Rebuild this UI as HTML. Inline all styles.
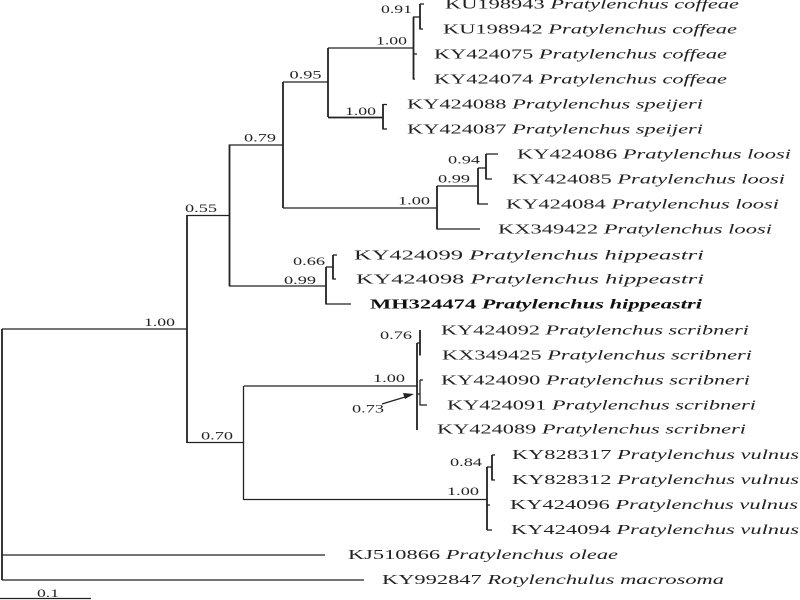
<!DOCTYPE html>
<html><head><meta charset="utf-8"><style>
html,body{margin:0;padding:0;background:#fff;width:800px;height:600px;overflow:hidden}
svg{display:block}
text{font-family:"Liberation Serif",serif;font-size:13.5px;fill:#222}
.n{font-size:12px}
.i{font-style:italic}
.b{font-weight:bold;fill:#111}
line{stroke:#222;stroke-width:1.3}
.t{stroke-width:1.8}
</style></head><body>
<svg width="800" height="600" viewBox="0 0 800 600" xmlns="http://www.w3.org/2000/svg">
<g>
<line x1="2" y1="329" x2="2" y2="580" class="t"/>
<line x1="2" y1="329" x2="187" y2="329"/>
<line x1="187" y1="215" x2="187" y2="443" class="t"/>
<line x1="187" y1="215.500" x2="229" y2="215.500"/>
<line x1="229.500" y1="144.500" x2="229.500" y2="286" class="t"/>
<line x1="229" y1="145" x2="283" y2="145"/>
<line x1="283" y1="82" x2="283" y2="208" class="t"/>
<line x1="283" y1="82" x2="328" y2="82"/>
<line x1="328" y1="48" x2="328" y2="117" class="t"/>
<line x1="328" y1="48" x2="413" y2="48"/>
<line x1="413.500" y1="17" x2="413.500" y2="79.500" class="t"/>
<line x1="413" y1="17" x2="420" y2="17"/>
<line x1="420" y1="4" x2="420" y2="29.500" class="t"/>
<line x1="420" y1="4" x2="424" y2="4"/>
<line x1="420" y1="29" x2="423" y2="29"/>
<line x1="413" y1="54" x2="417" y2="54"/>
<line x1="413" y1="79" x2="415" y2="79"/>
<line x1="328" y1="117.500" x2="383" y2="117.500" class="t"/>
<line x1="383" y1="104" x2="383" y2="129.500" class="t"/>
<line x1="383" y1="104.500" x2="387" y2="104.500"/>
<line x1="383" y1="129" x2="387" y2="129"/>
<line x1="283" y1="208" x2="437" y2="208"/>
<line x1="437" y1="186" x2="437" y2="229.500" class="t"/>
<line x1="437" y1="186" x2="478" y2="186"/>
<line x1="437" y1="229" x2="480" y2="229"/>
<line x1="478" y1="168" x2="478" y2="204.500" class="t"/>
<line x1="478" y1="168" x2="486" y2="168"/>
<line x1="478" y1="204" x2="488" y2="204"/>
<line x1="486" y1="154" x2="486" y2="179.500" class="t"/>
<line x1="486" y1="154" x2="498" y2="154"/>
<line x1="486" y1="179" x2="492" y2="179"/>
<line x1="229" y1="286" x2="326" y2="286"/>
<line x1="326" y1="267" x2="326" y2="304.500" class="t"/>
<line x1="326" y1="304" x2="351" y2="304"/>
<line x1="326" y1="267" x2="333" y2="267"/>
<line x1="333" y1="255" x2="333" y2="279.500" class="t"/>
<line x1="333" y1="255" x2="337" y2="255"/>
<line x1="333" y1="279" x2="336" y2="279"/>
<line x1="187" y1="442.500" x2="244" y2="442.500"/>
<line x1="243.500" y1="386" x2="243.500" y2="500"/>
<line x1="244" y1="386" x2="417" y2="386"/>
<line x1="417" y1="343" x2="417" y2="430" class="t"/>
<line x1="417" y1="343" x2="420" y2="343"/>
<line x1="420" y1="330" x2="420" y2="355.500" class="t"/>
<line x1="417" y1="394" x2="420" y2="394"/>
<line x1="420" y1="380" x2="420" y2="405.500"/>
<line x1="420" y1="380" x2="423" y2="380"/>
<line x1="420" y1="405" x2="427" y2="405"/>
<line x1="382" y1="404" x2="410" y2="395.500"/>
<polygon points="414,394 403,393 405,399" fill="#222"/>
<line x1="244" y1="499.500" x2="487" y2="499.500"/>
<line x1="487" y1="467" x2="487" y2="530" class="t"/>
<line x1="487" y1="467" x2="492" y2="467"/>
<line x1="492" y1="455" x2="492" y2="480.500" class="t"/>
<line x1="492" y1="455" x2="495" y2="455"/>
<line x1="492" y1="480" x2="495" y2="480"/>
<line x1="487" y1="505" x2="490" y2="505"/>
<line x1="487" y1="530" x2="492" y2="530"/>
<line x1="2" y1="555" x2="325" y2="555"/>
<line x1="2" y1="580" x2="364" y2="580"/>
<line x1="0" y1="598.500" x2="91" y2="598.500"/>
</g>
<g>
<text class="n" x="381" y="13" textLength="31" lengthAdjust="spacingAndGlyphs">0.91</text>
<text class="n" x="376" y="44.500" textLength="31" lengthAdjust="spacingAndGlyphs">1.00</text>
<text class="n" x="289.500" y="78.500" textLength="32" lengthAdjust="spacingAndGlyphs">0.95</text>
<text class="n" x="345" y="115" textLength="31" lengthAdjust="spacingAndGlyphs">1.00</text>
<text class="n" x="244" y="141.500" textLength="32" lengthAdjust="spacingAndGlyphs">0.79</text>
<text class="n" x="448" y="163.500" textLength="32" lengthAdjust="spacingAndGlyphs">0.94</text>
<text class="n" x="438" y="182.500" textLength="32" lengthAdjust="spacingAndGlyphs">0.99</text>
<text class="n" x="398" y="204.500" textLength="32" lengthAdjust="spacingAndGlyphs">1.00</text>
<text class="n" x="185" y="212" textLength="32" lengthAdjust="spacingAndGlyphs">0.55</text>
<text class="n" x="293" y="265" textLength="32" lengthAdjust="spacingAndGlyphs">0.66</text>
<text class="n" x="284" y="284" textLength="32" lengthAdjust="spacingAndGlyphs">0.99</text>
<text class="n" x="144" y="326" textLength="31" lengthAdjust="spacingAndGlyphs">1.00</text>
<text class="n" x="380" y="339" textLength="32" lengthAdjust="spacingAndGlyphs">0.76</text>
<text class="n" x="373" y="382" textLength="32" lengthAdjust="spacingAndGlyphs">1.00</text>
<text class="n" x="352" y="412.500" textLength="32" lengthAdjust="spacingAndGlyphs">0.73</text>
<text class="n" x="201" y="439.500" textLength="32" lengthAdjust="spacingAndGlyphs">0.70</text>
<text class="n" x="450" y="466" textLength="32" lengthAdjust="spacingAndGlyphs">0.84</text>
<text class="n" x="447" y="495" textLength="32" lengthAdjust="spacingAndGlyphs">1.00</text>
<text class="n" x="37" y="597" textLength="22" lengthAdjust="spacingAndGlyphs">0.1</text>
</g>
<g>
<text x="445" y="8.500" textLength="294" lengthAdjust="spacingAndGlyphs">KU198943 <tspan class="i">Pratylenchus coffeae</tspan></text>
<text x="443" y="33.500" textLength="294" lengthAdjust="spacingAndGlyphs">KU198942 <tspan class="i">Pratylenchus coffeae</tspan></text>
<text x="434" y="58.500" textLength="293" lengthAdjust="spacingAndGlyphs">KY424075 <tspan class="i">Pratylenchus coffeae</tspan></text>
<text x="434" y="83.500" textLength="293" lengthAdjust="spacingAndGlyphs">KY424074 <tspan class="i">Pratylenchus coffeae</tspan></text>
<text x="407" y="108.500" textLength="296" lengthAdjust="spacingAndGlyphs">KY424088 <tspan class="i">Pratylenchus speijeri</tspan></text>
<text x="407" y="133.500" textLength="296" lengthAdjust="spacingAndGlyphs">KY424087 <tspan class="i">Pratylenchus speijeri</tspan></text>
<text x="517" y="158.500" textLength="274" lengthAdjust="spacingAndGlyphs">KY424086 <tspan class="i">Pratylenchus loosi</tspan></text>
<text x="512" y="183.500" textLength="273" lengthAdjust="spacingAndGlyphs">KY424085 <tspan class="i">Pratylenchus loosi</tspan></text>
<text x="506" y="208.500" textLength="273" lengthAdjust="spacingAndGlyphs">KY424084 <tspan class="i">Pratylenchus loosi</tspan></text>
<text x="498" y="233.500" textLength="274" lengthAdjust="spacingAndGlyphs">KX349422 <tspan class="i">Pratylenchus loosi</tspan></text>
<text x="354" y="259.500" textLength="350" lengthAdjust="spacingAndGlyphs">KY424099 <tspan class="i">Pratylenchus hippeastri</tspan></text>
<text x="356" y="283.500" textLength="348" lengthAdjust="spacingAndGlyphs">KY424098 <tspan class="i">Pratylenchus hippeastri</tspan></text>
<text x="370" y="308.500" textLength="332" lengthAdjust="spacingAndGlyphs" class="b">MH324474 <tspan class="i">Pratylenchus hippeastri</tspan></text>
<text x="441" y="334.500" textLength="308" lengthAdjust="spacingAndGlyphs">KY424092 <tspan class="i">Pratylenchus scribneri</tspan></text>
<text x="442" y="359.500" textLength="310" lengthAdjust="spacingAndGlyphs">KX349425 <tspan class="i">Pratylenchus scribneri</tspan></text>
<text x="441" y="384.500" textLength="309" lengthAdjust="spacingAndGlyphs">KY424090 <tspan class="i">Pratylenchus scribneri</tspan></text>
<text x="447" y="409.500" textLength="309" lengthAdjust="spacingAndGlyphs">KY424091 <tspan class="i">Pratylenchus scribneri</tspan></text>
<text x="437" y="433.500" textLength="309" lengthAdjust="spacingAndGlyphs">KY424089 <tspan class="i">Pratylenchus scribneri</tspan></text>
<text x="512" y="459" textLength="287" lengthAdjust="spacingAndGlyphs">KY828317 <tspan class="i">Pratylenchus vulnus</tspan></text>
<text x="512" y="484" textLength="287" lengthAdjust="spacingAndGlyphs">KY828312 <tspan class="i">Pratylenchus vulnus</tspan></text>
<text x="510" y="509" textLength="288" lengthAdjust="spacingAndGlyphs">KY424096 <tspan class="i">Pratylenchus vulnus</tspan></text>
<text x="511" y="534" textLength="288" lengthAdjust="spacingAndGlyphs">KY424094 <tspan class="i">Pratylenchus vulnus</tspan></text>
<text x="348" y="559" textLength="270" lengthAdjust="spacingAndGlyphs">KJ510866 <tspan class="i">Pratylenchus oleae</tspan></text>
<text x="382" y="584" textLength="342" lengthAdjust="spacingAndGlyphs">KY992847 <tspan class="i">Rotylenchulus macrosoma</tspan></text>
</g>
</svg>
</body></html>
